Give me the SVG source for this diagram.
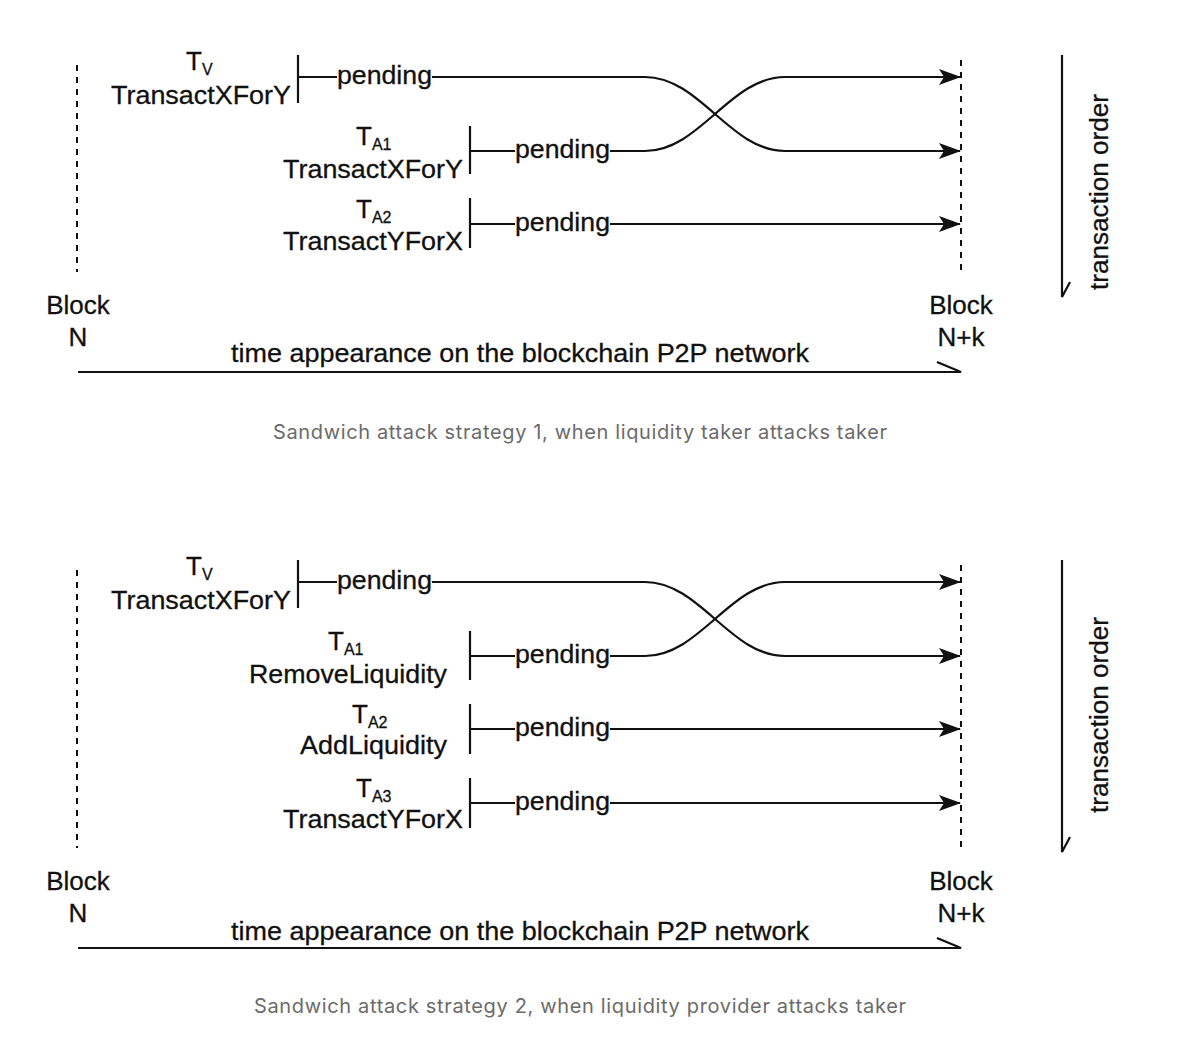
<svg xmlns="http://www.w3.org/2000/svg" width="1188" height="1044" viewBox="0 0 1188 1044">
<style>
text{font-family:"Liberation Sans",Arial,sans-serif;fill:#111}
.t{font-size:26px;stroke:#111;stroke-width:0.3}
.s{font-size:16px}
.cap{font-size:20px;fill:#6b6b6b;font-family:"Inter","Liberation Sans",sans-serif}
.ln{stroke:#111;stroke-width:2.2;fill:none}
.d{stroke:#111;stroke-width:2;stroke-dasharray:6,6;fill:none}
</style>
<defs>
<marker id="ah" markerWidth="22" markerHeight="16" refX="21" refY="8" orient="auto" markerUnits="userSpaceOnUse" viewBox="0 0 22 16"><path d="M0,0 L22,8 L0,16 L5,8 Z" fill="#111"/></marker>
</defs>
<rect width="1188" height="1044" fill="#fff"/>
<g id="diagram1">
<g id="blockN1"><line class="d" x1="77" y1="65" x2="77" y2="272"/><text class="t" x="78" y="314" text-anchor="middle">Block</text><text class="t" x="78" y="346" text-anchor="middle">N</text></g>
<g id="blockNk1"><line class="d" x1="961" y1="60" x2="961" y2="272"/><text class="t" x="961" y="314" text-anchor="middle">Block</text><text class="t" x="961" y="346" text-anchor="middle">N+k</text></g>
<g id="tv1"><text class="t" x="186" y="70">T<tspan class="s" dy="5">V</tspan></text><text class="t" x="291" y="104" text-anchor="end" textLength="180" lengthAdjust="spacingAndGlyphs">TransactXForY</text><line class="ln" x1="298" y1="55" x2="298" y2="103"/></g>
<g id="ta1_1"><text class="t" x="356" y="145">T<tspan class="s" dy="5">A1</tspan></text><text class="t" x="463" y="178" text-anchor="end" textLength="180" lengthAdjust="spacingAndGlyphs">TransactXForY</text><line class="ln" x1="470" y1="126" x2="470" y2="174"/></g>
<g id="ta2_1"><text class="t" x="356" y="218">T<tspan class="s" dy="5">A2</tspan></text><text class="t" x="463" y="250" text-anchor="end" textLength="180" lengthAdjust="spacingAndGlyphs">TransactYForX</text><line class="ln" x1="470" y1="198" x2="470" y2="248"/></g>
<g id="conn1">
<path class="ln" d="M298,77 H337 M432,77 H645 C700,77 730,151 785,151 H960" marker-end="url(#ah)"/>
<text class="t" x="337" y="84" textLength="95" lengthAdjust="spacingAndGlyphs">pending</text>
<path class="ln" d="M470,151 H515 M610,151 H645 C700,151 730,77 785,77 H960" marker-end="url(#ah)"/>
<text class="t" x="515" y="158" textLength="95" lengthAdjust="spacingAndGlyphs">pending</text>
<path class="ln" d="M470,224 H515 M610,224 H960" marker-end="url(#ah)"/>
<text class="t" x="515" y="231" textLength="95" lengthAdjust="spacingAndGlyphs">pending</text>
<path class="ln" d="M78,372 H961 L937,362"/>
<text class="t" x="520" y="362" text-anchor="middle" textLength="578" lengthAdjust="spacingAndGlyphs">time appearance on the blockchain P2P network</text>
<path class="ln" d="M1062,55 V297 L1070,282"/>
<text class="t" x="1108" y="192" text-anchor="middle" transform="rotate(-90 1108 192)" textLength="196" lengthAdjust="spacingAndGlyphs">transaction order</text>
</g>
<text class="cap" x="580" y="439" text-anchor="middle" textLength="614">Sandwich attack strategy 1, when liquidity taker attacks taker</text>
</g>
<g id="diagram2">
<g id="blockN2"><line class="d" x1="77" y1="570" x2="77" y2="848"/><text class="t" x="78" y="890" text-anchor="middle">Block</text><text class="t" x="78" y="922" text-anchor="middle">N</text></g>
<g id="blockNk2"><line class="d" x1="961" y1="565" x2="961" y2="850"/><text class="t" x="961" y="890" text-anchor="middle">Block</text><text class="t" x="961" y="922" text-anchor="middle">N+k</text></g>
<g id="tv2"><text class="t" x="186" y="575">T<tspan class="s" dy="5">V</tspan></text><text class="t" x="291" y="609" text-anchor="end" textLength="180" lengthAdjust="spacingAndGlyphs">TransactXForY</text><line class="ln" x1="298" y1="560" x2="298" y2="608"/></g>
<g id="ta1_2"><text class="t" x="328" y="650">T<tspan class="s" dy="5">A1</tspan></text><text class="t" x="447" y="683" text-anchor="end" textLength="198" lengthAdjust="spacingAndGlyphs">RemoveLiquidity</text><line class="ln" x1="470" y1="631" x2="470" y2="680"/></g>
<g id="ta2_2"><text class="t" x="352" y="723">T<tspan class="s" dy="5">A2</tspan></text><text class="t" x="447" y="754" text-anchor="end" textLength="147" lengthAdjust="spacingAndGlyphs">AddLiquidity</text><line class="ln" x1="470" y1="704" x2="470" y2="754"/></g>
<g id="ta3_2"><text class="t" x="356" y="797">T<tspan class="s" dy="5">A3</tspan></text><text class="t" x="463" y="828" text-anchor="end" textLength="180" lengthAdjust="spacingAndGlyphs">TransactYForX</text><line class="ln" x1="470" y1="778" x2="470" y2="828"/></g>
<g id="conn2">
<path class="ln" d="M298,582 H337 M432,582 H645 C700,582 730,656 785,656 H960" marker-end="url(#ah)"/>
<text class="t" x="337" y="589" textLength="95" lengthAdjust="spacingAndGlyphs">pending</text>
<path class="ln" d="M470,656 H515 M610,656 H645 C700,656 730,582 785,582 H960" marker-end="url(#ah)"/>
<text class="t" x="515" y="663" textLength="95" lengthAdjust="spacingAndGlyphs">pending</text>
<path class="ln" d="M470,729 H515 M610,729 H960" marker-end="url(#ah)"/>
<text class="t" x="515" y="736" textLength="95" lengthAdjust="spacingAndGlyphs">pending</text>
<path class="ln" d="M470,803 H515 M610,803 H960" marker-end="url(#ah)"/>
<text class="t" x="515" y="810" textLength="95" lengthAdjust="spacingAndGlyphs">pending</text>
<path class="ln" d="M78,948 H961 L937,938"/>
<text class="t" x="520" y="940" text-anchor="middle" textLength="578" lengthAdjust="spacingAndGlyphs">time appearance on the blockchain P2P network</text>
<path class="ln" d="M1062,560 V852 L1070,837"/>
<text class="t" x="1108" y="715" text-anchor="middle" transform="rotate(-90 1108 715)" textLength="196" lengthAdjust="spacingAndGlyphs">transaction order</text>
</g>
<text class="cap" x="580" y="1013" text-anchor="middle" textLength="652">Sandwich attack strategy 2, when liquidity provider attacks taker</text>
</g>
</svg>
